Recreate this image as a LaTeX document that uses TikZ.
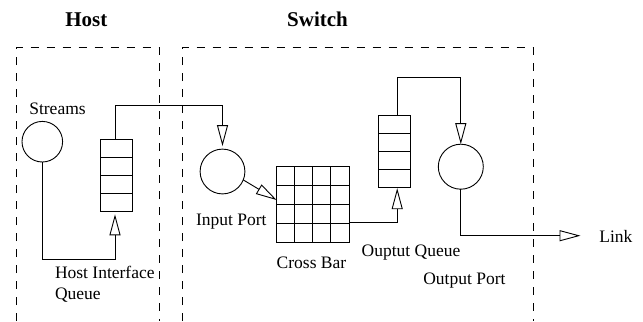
\documentclass[tikz,border=0pt]{standalone}
\usepackage{fontspec}
\setmainfont{Liberation Serif}
\usetikzlibrary{arrows.meta,calc}
\begin{document}
\begin{tikzpicture}[x=1bp,y=-1bp,
  line width=0.9bp,
  every node/.style={inner sep=0pt,outer sep=0pt},
  lbl/.style={font=\fontsize{17.5bp}{21bp}\selectfont},
  ttl/.style={font=\fontsize{21bp}{25bp}\selectfont\bfseries},
  region/.style={dashed,dash pattern=on 8bp off 8bp,line width=0.8bp},
  circ/.style={draw,circle},
  queuebox/.style={draw,rectangle,minimum width=31.7bp,minimum height=72bp},
  grid box/.style={draw,rectangle,minimum width=72.3bp,minimum height=75.6bp},
  flow/.style={-{Triangle[open,length=21bp,width=11bp]}}]
\useasboundingbox (0,0) rectangle (643,321);

% host and switch regions
\draw[region] (16,321) -- (16,47.7) -- (159.3,47.7) -- (159.3,321);
\draw[region] (182,321) -- (182,47.7) -- (533,47.7) -- (533,321);
\node[ttl,anchor=base] (thost) at (86.3,26) {Host};
\node[ttl,anchor=base] (tswitch) at (317.5,26) {Switch};

% host side
\node[circ,minimum size=40.6bp] (streams) at (42.3,141.7) {};
\node[lbl,anchor=base] (lstreams) at (57.5,114) {Streams};
\node[queuebox] (hq) at (116.5,175.8) {};
\node[lbl,anchor=base west,align=left] (lhq) at (55,299.3) {Host Interface\\Queue};

% switch side
\node[circ,minimum size=44.8bp] (ip) at (222.5,171.5) {};
\node[lbl,anchor=base] (lip) at (231.3,225) {Input Port};
\node[grid box] (xb) at (312.8,204.5) {};
\node[lbl,anchor=base west] (lxb) at (276.7,268.3) {Cross Bar};
\node[queuebox] (oq) at (394.2,151.2) {};
\node[lbl,anchor=base west] (loq) at (361.7,256.7) {Ouptut Queue};
\node[circ,minimum size=45bp] (op) at (460.8,166.7) {};
\node[lbl,anchor=base west] (lop) at (423.3,284) {Output Port};
\node[lbl,anchor=base west] (llink) at (599.3,242.3) {Link};
\coordinate (linkend) at (580.5,235.7);

% queue slots
\foreach \q in {hq,oq}
  \foreach \f in {0.25,0.5,0.75}
    \draw ($(\q.north west)!\f!(\q.south west)$) -- ($(\q.north east)!\f!(\q.south east)$);

% crossbar grid
\foreach \f in {0.25,0.5,0.75} {
  \draw ($(xb.north west)!\f!(xb.south west)$) -- ($(xb.north east)!\f!(xb.south east)$);
  \draw ($(xb.north west)!\f!(xb.north east)$) -- ($(xb.south west)!\f!(xb.south east)$);
}

% connectors
\draw[flow,shorten >=2.5bp] (streams.south) -- (streams.south |- 0,259.3)
  -| ([xshift=-1.5bp]hq.south);
\draw[flow,shorten >=3bp] ([xshift=-1.5bp]hq.north) -- ([xshift=-1.5bp]hq.north |- 0,105.3)
  -| (ip.north);
\draw[flow] (ip.-22) -- (xb.west |- 0,200);
\draw[flow,shorten >=1bp] (xb.east |- 0,222.3) -| ([xshift=3bp]oq.south);
\draw[flow] ([xshift=3bp]oq.north) -- ([xshift=3bp]oq.north |- 0,77.3) -| (op.north);
\draw[flow] (op.south) |- (linkend);
\end{tikzpicture}
\end{document}
